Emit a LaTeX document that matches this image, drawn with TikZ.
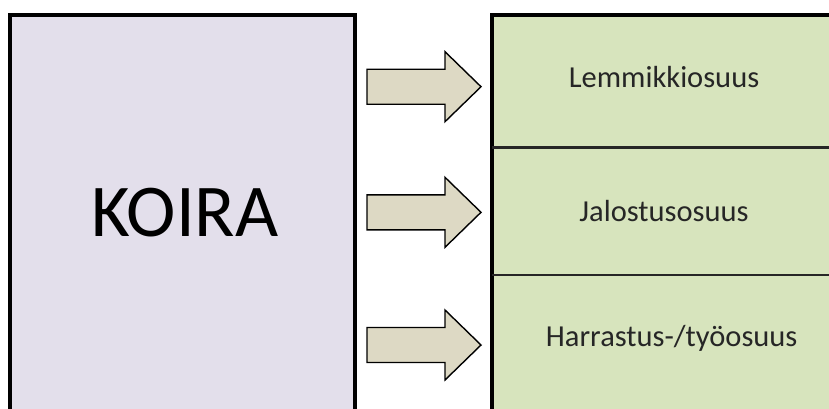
\documentclass[tikz,border=0pt]{standalone}
\usepackage{fontspec}
\setmainfont{Carlito}
\definecolor{lavfill}{HTML}{E3DFEB}
\definecolor{greenfill}{HTML}{D7E4BD}
\definecolor{tanfill}{HTML}{DDD9C4}
\tikzset{
  bigbox/.style={draw=black, line width=4pt},
  divider/.style={draw=black!85, line width=2.5pt},
  blockarrow/.style={draw=black, line width=1.4pt, fill=tanfill, line join=miter},
  parttext/.style={font=\fontsize{30.5}{36}\selectfont, text=black!85, anchor=base, inner sep=0pt},
}
\begin{document}
\begin{tikzpicture}[x=1pt,y=-1pt]
\useasboundingbox (0,0) rectangle (829,408);
\fill[white] (0,0) rectangle (829,408);
\begin{scope}
\clip (0,0) rectangle (829,408);
% left box
\draw[bigbox, fill=lavfill] (10.3,15.3) rectangle (355,440);
% right box
\draw[bigbox, fill=greenfill] (492,15.3) rectangle (860,440);
\draw[divider] (492,147.5) -- (860,147.5);
\draw[divider] (492,274.8) -- (860,274.8);
\end{scope}
\node[font=\fontsize{74.5}{80}\selectfont, anchor=base, inner sep=0pt] (koira) at (185,236.7) {KOIRA};
\node[parttext] (lem) at (664,87.3) {Lemmikkiosuus};
\node[parttext] (jal) at (664,221.5) {Jalostusosuus};
\node[parttext] (har) at (671.7,346.7) {Harrastus-/työosuus};
% block arrows
\foreach \cy/\nm in {86.7/a1, 212.3/a2, 345/a3}{
  \coordinate (\nm) at (0,\cy);
  \draw[blockarrow] ([shift={(367,-17.5)}]\nm) -- ([shift={(445,-17.5)}]\nm) -- ([shift={(445,-35)}]\nm)
     -- ([shift={(481,0)}]\nm) -- ([shift={(445,35)}]\nm) -- ([shift={(445,17.5)}]\nm)
     -- ([shift={(367,17.5)}]\nm) -- cycle;
}
\end{tikzpicture}
\end{document}
